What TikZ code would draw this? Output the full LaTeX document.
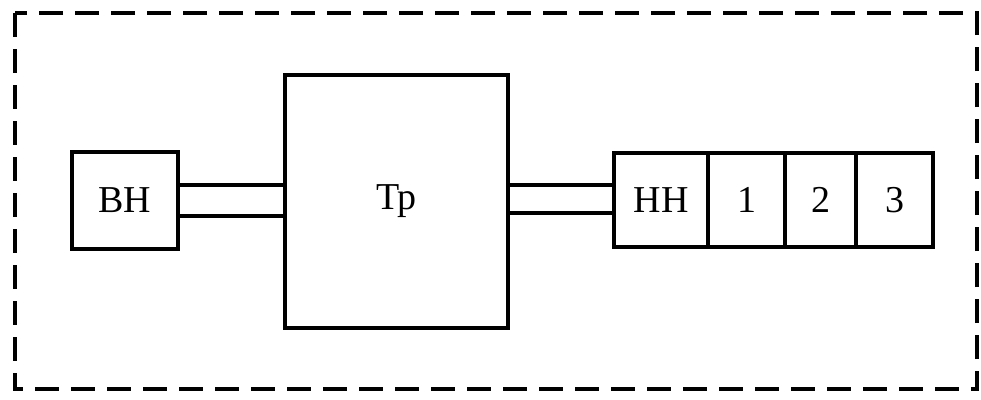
\documentclass[tikz,border=0pt]{standalone}
\usepackage{fontspec}
\setmainfont{Liberation Serif}
\begin{document}
\begin{tikzpicture}[x=1pt,y=-1pt,
  blk/.style={draw,line width=3.4pt,inner sep=0pt,anchor=center,
    font=\fontsize{38}{42}\selectfont},
  link/.style={line width=3.2pt},
  frame/.style={line width=3.2pt,dash pattern=on 24pt off 12pt}]
\useasboundingbox (0,0) rectangle (981,399);
\draw[frame] (15,13) rectangle (977,389);
\node[blk,minimum width=106pt,minimum height=97pt] (bh) at (125,200.5) {ВН};
\node[blk,minimum width=223pt,minimum height=253pt] (tp) at (396.5,201.5) {Тр};
\node[blk,minimum width=94pt,minimum height=94pt] (hh) at (661,200) {НН};
\node[blk,minimum width=77pt,minimum height=94pt] (n1) at (746.5,200) {1};
\node[blk,minimum width=71pt,minimum height=94pt] (n2) at (820.5,200) {2};
\node[blk,minimum width=77pt,minimum height=94pt] (n3) at (894.5,200) {3};
\draw[link] ([yshift=15.5pt]bh.east) -- ([yshift=15.5pt]bh.east -| tp.west);
\draw[link] ([yshift=-15.5pt]bh.east) -- ([yshift=-15.5pt]bh.east -| tp.west);
\draw[link] ([yshift=15pt]hh.west) -- ([yshift=15pt]hh.west -| tp.east);
\draw[link] ([yshift=-13pt]hh.west) -- ([yshift=-13pt]hh.west -| tp.east);
\end{tikzpicture}
\end{document}
